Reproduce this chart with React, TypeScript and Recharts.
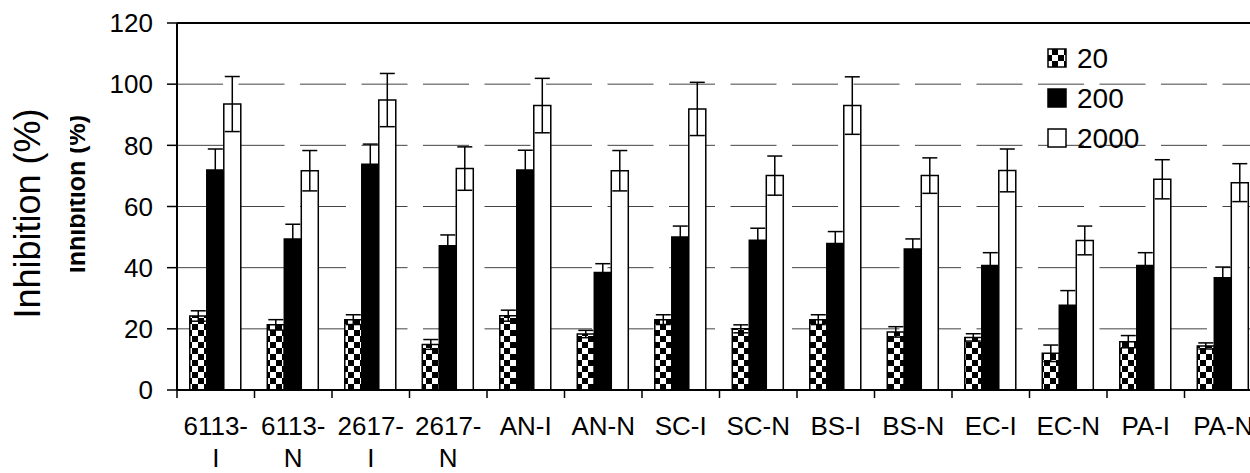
import { BarChart, Bar, XAxis, YAxis, CartesianGrid, ErrorBar, Legend, ReferenceLine } from "recharts";

const categories = [
  "6113-I", "6113-N", "2617-I", "2617-N", "AN-I", "AN-N", "SC-I",
  "SC-N", "BS-I", "BS-N", "EC-I", "EC-N", "PA-I", "PA-N",
];
const conc20 = [24.2, 21.3, 23, 14.9, 24.3, 18.3, 23, 20, 23, 19, 17.2, 12, 15.8, 14.4];
const conc20Err = [1.7, 1.7, 1.6, 1.6, 1.8, 1.2, 1.6, 1.3, 1.6, 1.7, 1.2, 2.7, 2, 1];
const conc200 = [71.9, 49.4, 73.8, 47.2, 71.9, 38.4, 50, 49, 47.9, 46.1, 40.7, 27.7, 40.7, 36.7];
const conc200Err = [6.9, 4.8, 6.6, 3.5, 6.5, 2.9, 3.6, 3.9, 3.9, 3.3, 4.2, 4.8, 4.2, 3.5];
const conc2000 = [93.5, 71.7, 94.8, 72.4, 93, 71.7, 91.9, 70.1, 93, 70.1, 71.8, 48.9, 68.9, 67.8];
const conc2000Err = [9, 6.6, 8.7, 7.1, 8.9, 6.6, 8.7, 6.4, 9.4, 5.8, 7, 4.7, 6.4, 6.2];
const seriesNames = ["20", "200", "2000"];
const yTicks = [0, 20, 40, 60, 80, 100, 120];
const yTitle = "Inhibition (%)";

const CHART_W = 1270;
const CHART_H = 473;
const Y_AXIS_W = 177;
const MARGIN = { top: 23, right: 8, bottom: 0, left: 0 };
const BAND = (CHART_W - MARGIN.left - MARGIN.right - Y_AXIS_W) / categories.length;
const FONT = '"Liberation Sans", Arial, Helvetica, sans-serif';

const data = categories.map((name, i) => ({
  name,
  v20: conc20[i],
  e20: conc20Err[i],
  v200: conc200[i],
  e200: conc200Err[i],
  v2000: conc2000[i],
  e2000: conc2000Err[i],
}));

const fills = ["url(#checker)", "#000", "#fff"];

function CheckerDef({ id }: { id: string }) {
  return (
    <pattern id={id} width={12} height={12} patternUnits="userSpaceOnUse">
      <rect width={12} height={12} fill="#fff" />
      <rect x={0} y={0} width={6} height={6} fill="#000" />
      <rect x={6} y={6} width={6} height={6} fill="#000" />
    </pattern>
  );
}

function CategoryTick(props: any) {
  const { x, y, payload } = props;
  const label: string = String(payload.value);
  const cut = label.indexOf("-") + 1;
  // long labels wrap after the hyphen, like the original
  const lines = label.length > 5 ? [label.slice(0, cut), label.slice(cut)] : [label];
  const left = x - BAND / 2;
  return (
    <g>
      <line x1={left} x2={left} y1={y - 8} y2={y} stroke="#000" strokeWidth={1.5} />
      {lines.map((l, i) => (
        <text key={i} x={x} y={y + 37 + i * 32} textAnchor="middle" fontSize={26} fill="#000">
          {l}
        </text>
      ))}
    </g>
  );
}

function LegendBox() {
  return (
    <svg width={160} height={125} style={{ display: "block" }}>
      <defs>
        <CheckerDef id="checkerLegend" />
      </defs>
      {seriesNames.map((s, i) => (
        <g key={s} transform={`translate(0, ${i * 40})`}>
          <rect
            x={2}
            y={6}
            width={18}
            height={18}
            fill={i === 0 ? "url(#checkerLegend)" : fills[i]}
            stroke="#000"
            strokeWidth={1.5}
          />
          <text x={31} y={25} fontSize={28} fill="#000">
            {s}
          </text>
        </g>
      ))}
    </svg>
  );
}

export default function App() {
  return (
    <div
      style={{
        position: "absolute",
        left: 0,
        top: 0,
        width: 1250,
        height: 473,
        overflow: "hidden",
        background: "#fff",
        fontFamily: FONT,
      }}
    >
      <BarChart
        width={CHART_W}
        height={CHART_H}
        data={data}
        margin={MARGIN}
        barCategoryGap="16.5%"
        barGap={0}
      >
        <defs>
          <CheckerDef id="checker" />
        </defs>
        <CartesianGrid vertical={false} stroke="#444" strokeWidth={1} strokeDasharray="46 15.5" />
        <XAxis
          dataKey="name"
          height={83}
          interval={0}
          tickSize={8}
          tickMargin={0}
          tickLine={false}
          axisLine={{ stroke: "#000", strokeWidth: 2 }}
          tick={<CategoryTick />}
        />
        <YAxis
          domain={[0, 120]}
          ticks={yTicks}
          interval={0}
          width={Y_AXIS_W}
          tickSize={10}
          tickMargin={14}
          axisLine={{ stroke: "#000", strokeWidth: 2 }}
          tickLine={{ stroke: "#000", strokeWidth: 1.5 }}
          tick={{ fill: "#000", fontSize: 26 }}
        />
        <ReferenceLine y={120} stroke="#000" strokeWidth={2} />
        <Bar dataKey="v20" name={seriesNames[0]} fill={fills[0]} stroke="#000" strokeWidth={1.5} isAnimationActive={false}>
          <ErrorBar dataKey="e20" width={7.5} stroke="#000" strokeWidth={1.5} direction="y" isAnimationActive={false} />
        </Bar>
        <Bar dataKey="v200" name={seriesNames[1]} fill={fills[1]} stroke="#000" strokeWidth={1.5} isAnimationActive={false}>
          <ErrorBar dataKey="e200" width={7.5} stroke="#000" strokeWidth={1.5} direction="y" isAnimationActive={false} />
        </Bar>
        <Bar dataKey="v2000" name={seriesNames[2]} fill={fills[2]} stroke="#000" strokeWidth={1.5} isAnimationActive={false}>
          <ErrorBar dataKey="e2000" width={7.5} stroke="#000" strokeWidth={1.5} direction="y" isAnimationActive={false} />
        </Bar>
        <Legend
          layout="vertical"
          align="center"
          verticalAlign="middle"
          content={() => <LegendBox />}
          wrapperStyle={{ left: 1046, top: 43, width: 160, height: 125 }}
        />
      </BarChart>
      <svg
        width={1250}
        height={473}
        style={{ position: "absolute", left: 0, top: 0, pointerEvents: "none" }}
      >
        <defs>
          <clipPath id="boldTitleClip">
            <rect x={70} y={0} width={40} height={473} />
          </clipPath>
        </defs>
        <text transform="translate(40, 213.5) rotate(-90)" textAnchor="middle" fontSize={36} fill="#000">
          {yTitle}
        </text>
        <g clipPath="url(#boldTitleClip)">
          <text
            transform="translate(85, 194) rotate(-90)"
            textAnchor="middle"
            fontSize={25}
            fontWeight="bold"
            fill="#000"
          >
            {yTitle}
          </text>
        </g>
      </svg>
    </div>
  );
}
